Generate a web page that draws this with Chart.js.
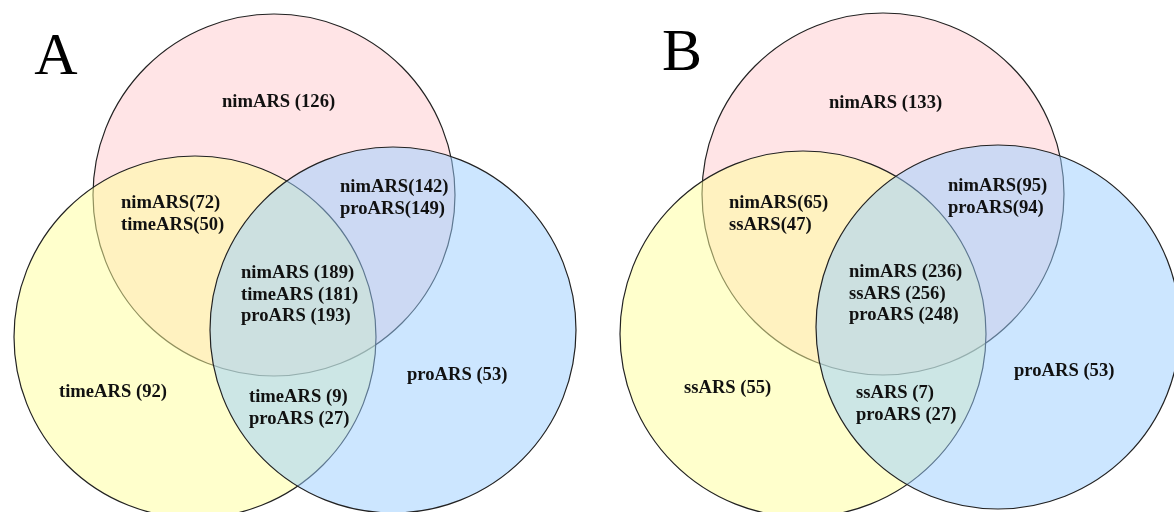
<!DOCTYPE html>
<html>
<head>
<meta charset="utf-8">
<script src="https://cdn.jsdelivr.net/npm/chart.js@4.4.1/dist/chart.umd.min.js"></script>
<style>
  html, body { margin: 0; padding: 0; background: #ffffff; }
  #wrap { width: 1174px; height: 512px; position: relative; }
</style>
</head>
<body>
<div id="wrap"><canvas id="c" width="1174" height="512"></canvas></div>
<script>
// ---------------- DATA ----------------
const panelLetters = ["A", "B"];
const setNamesA = ["nimARS", "timeARS", "proARS"];
const setNamesB = ["nimARS", "ssARS", "proARS"];
// regions: only set0, set0∩set1, set0∩set2, all three, only set1, set1∩set2, only set2
const regionSets = [[0], [0, 1], [0, 2], [0, 1, 2], [1], [1, 2], [2]];
const regionCountsA = [[126], [72, 50], [142, 149], [189, 181, 193], [92], [9, 27], [53]];
const regionCountsB = [[133], [65, 47], [95, 94], [236, 256, 248], [55], [7, 27], [53]];

// ---------------- LAYOUT (positions / sizes / styles) ----------------
const W = 1174, H = 512;
const circleLayoutA = [ {x: 274, y: 195, r: 181}, {x: 195, y: 337, r: 181}, {x: 393, y: 330, r: 183} ];
const circleLayoutB = [ {x: 883, y: 194, r: 181}, {x: 803, y: 334, r: 183}, {x: 998, y: 327, r: 182} ];
const labelPosA = [ [222, 102], [121, 203], [340, 187], [241, 273], [59, 392], [249, 397], [407, 375] ];
const labelPosB = [ [829, 103], [729, 203], [948, 186], [849, 272], [684, 388], [856, 393], [1014, 371] ];
const tightPairs = [false, true, true, false, false, false, false]; // "nimARS(72)" style without space
const letterPos = [ [56, 58], [682, 54] ];
const fills = ["rgb(255,228,230)", "rgba(255,255,153,0.5)", "rgba(153,205,255,0.5)"];
const strokes = ["#222", "#222", "#222"];

function bubbleData(k) {
  return [circleLayoutA[k], circleLayoutB[k]].map(c => ({x: c.x, y: c.y, r: c.r}));
}

const labelPlugin = {
  id: 'vennLabels',
  afterDatasetsDraw(chart) {
    const ctx = chart.ctx;
    const xs = chart.scales.x, ys = chart.scales.y;
    ctx.save();
    ctx.fillStyle = "#111";
    ctx.textBaseline = "middle";
    ctx.textAlign = "left";
    ctx.font = "bold 18.6px 'Liberation Serif', 'Times New Roman', serif";
    const panels = [ [setNamesA, regionCountsA, labelPosA], [setNamesB, regionCountsB, labelPosB] ];
    panels.forEach(([names, counts, pos]) => {
      regionSets.forEach((sets, i) => {
        const px = xs.getPixelForValue(pos[i][0]);
        let py = ys.getPixelForValue(pos[i][1]);
        sets.forEach((s, j) => {
          const txt = names[s] + (tightPairs[i] ? "" : " ") + "(" + counts[i][j] + ")";
          ctx.fillText(txt, px, py + j * 21.8);
        });
      });
    });
    ctx.font = "60px 'Liberation Serif', 'Times New Roman', serif";
    ctx.textAlign = "center";
    ctx.fillStyle = "#000";
    panelLetters.forEach((L, i) => {
      ctx.fillText(L, xs.getPixelForValue(letterPos[i][0]), ys.getPixelForValue(letterPos[i][1]));
    });
    ctx.restore();
  }
};

new Chart(document.getElementById('c'), {
  type: 'bubble',
  data: {
    datasets: [0, 1, 2].map(k => ({
      label: setNamesA[k],
      data: bubbleData(k),
      backgroundColor: fills[k],
      borderColor: strokes[k],
      borderWidth: 1.2,
      hoverRadius: 0,
      order: 3 - k,
      clip: false
    }))
  },
  options: {
    responsive: false,
    animation: false,
    events: [],
    layout: { padding: 0, autoPadding: false },
    plugins: { legend: { display: false }, tooltip: { enabled: false } },
    scales: {
      x: { type: 'linear', min: 0, max: W, display: false },
      y: { type: 'linear', min: 0, max: H, reverse: true, display: false }
    }
  },
  plugins: [labelPlugin]
});
</script>
</body>
</html>
